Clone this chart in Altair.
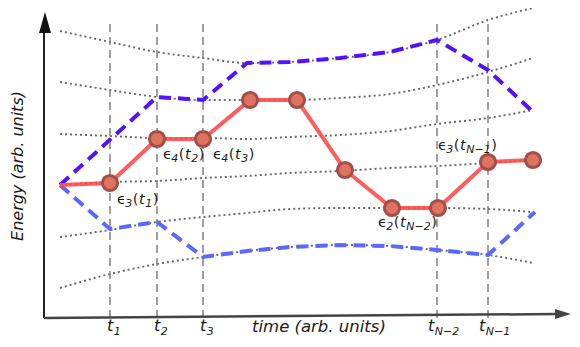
import altair as alt
import pandas as pd

# ---- data (time and energy in arbitrary units) ----
grid_t = [1.6, 6.6, 11.3, 15.9, 20.3, 24.6, 29.6, 34.6, 39.3, 44.4, 48.9]
level_1 = [28.7, 27.6, 26.6, 26.0, 25.5, 25.6, 26.0, 26.6, 27.8, 29.8, 31.0]
level_2 = [23.6, 22.8, 22.1, 21.8, 21.8, 21.8, 22.0, 22.4, 23.3, 24.6, 26.0]
level_3 = [18.4, 18.2, 18.0, 18.0, 17.9, 18.1, 18.3, 18.7, 19.4, 20.0, 20.8]
level_4 = [13.3, 13.6, 13.7, 14.0, 14.2, 14.5, 14.7, 15.0, 15.2, 15.5, 15.8]
level_5 = [8.1, 8.8, 9.6, 10.1, 10.5, 10.9, 11.0, 11.0, 11.0, 10.9, 10.6]
level_6 = [3.0, 4.4, 5.4, 6.1, 6.7, 7.1, 7.3, 7.2, 6.8, 6.3, 5.5]
levels = [level_1, level_2, level_3, level_4, level_5, level_6]

upper_t = [1.6, 11.3, 15.9, 20.3, 24.6, 29.6, 34.6, 39.3, 44.4, 48.7]
upper_e = [13.3, 22.1, 21.8, 25.5, 25.6, 26.0, 26.6, 27.8, 24.8, 20.8]

lower_t = [1.6, 6.6, 11.3, 15.9, 20.3, 24.6, 29.6, 34.6, 39.3, 44.4, 49.1]
lower_e = [13.3, 8.9, 9.6, 6.1, 6.7, 7.1, 7.3, 7.2, 6.8, 6.3, 10.6]

path_t = [1.6, 6.6, 11.3, 15.9, 20.6, 25.3, 30.1, 34.8, 39.4, 44.4, 48.9]
path_e = [13.3, 13.5, 17.9, 17.9, 21.8, 21.8, 14.8, 11.0, 11.0, 15.6, 15.8]

tick_t = [6.6, 11.3, 15.9, 39.3, 44.4]
tick_sub = ["1", "2", "3", "N\u22122", "N\u22121"]
tick_top = 29.6

eps_t = [7.3, 11.9, 16.9, 33.4, 39.4]
eps_e = [11.4, 15.9, 15.9, 9.1, 16.8]
eps_level = ["3", "4", "4", "2", "3"]
eps_time = ["1", "2", "3", "N\u22122", "N\u22121"]

x_title = "time (arb. units)"
y_title = "Energy (arb. units)"

# ---- scales ----
FONT = "DejaVu Sans"
xs = alt.Scale(domain=[-3.6, 52.8], nice=False, zero=False)
ys = alt.Scale(domain=[-2.1, 31.0], nice=False, zero=False)


def X(f="t"):
    return alt.X(f"{f}:Q", scale=xs, axis=None)


def Y(f="e"):
    return alt.Y(f"{f}:Q", scale=ys, axis=None)


layers = []

# dotted energy levels
lv = pd.DataFrame([
    {"t": t, "e": e, "lvl": i}
    for i, lev in enumerate(levels) for t, e in zip(grid_t, lev)
])
layers.append(alt.Chart(lv).mark_line(
    color="#666666", strokeWidth=1.9, strokeDash=[2, 3], interpolate="monotone"
).encode(x=X(), y=Y(), detail="lvl:N"))

# vertical dashed time lines
vt = pd.DataFrame({"t": tick_t, "e0": [0] * len(tick_t), "e1": [tick_top] * len(tick_t)})
layers.append(alt.Chart(vt).mark_rule(
    color="#888888", strokeWidth=1.6, strokeDash=[8, 5]
).encode(x=X(), y=Y("e0"), y2="e1:Q"))

# blue envelopes
up = pd.DataFrame({"t": upper_t, "e": upper_e})
layers.append(alt.Chart(up).mark_line(
    color="#5212ff", strokeWidth=4, strokeDash=[12, 7]
).encode(x=X(), y=Y()))
lo = pd.DataFrame({"t": lower_t, "e": lower_e})
layers.append(alt.Chart(lo).mark_line(
    color="#5a68ff", strokeWidth=4, strokeDash=[12, 7]
).encode(x=X(), y=Y()))

# red path
pth = pd.DataFrame({"t": path_t, "e": path_e})
layers.append(alt.Chart(pth).mark_line(
    color="#ff4a4a", strokeWidth=4, opacity=0.9
).encode(x=X(), y=Y()))
layers.append(alt.Chart(pth.iloc[1:]).mark_point(
    filled=True, fill="#e0735e", stroke="#a24f4c", strokeWidth=3, size=230, opacity=1
).encode(x=X(), y=Y()))

# axes
ax_y = pd.DataFrame({"t": [0, 0], "e": [0, 28.8]})
layers.append(alt.Chart(ax_y).mark_line(color="#222222", strokeWidth=2).encode(x=X(), y=Y()))
ax_x = pd.DataFrame({"t": [0, 51.3], "e": [0, 0.4]})
layers.append(alt.Chart(ax_x).mark_line(color="#444444", strokeWidth=2.5).encode(x=X(), y=Y()))
arr_y = pd.DataFrame({"t": [0.1], "e": [29.55]})
layers.append(alt.Chart(arr_y).mark_point(
    shape="M-0.57,1L0,-1L0.57,1Z", filled=True, color="#111111", size=441, opacity=1
).encode(x=X(), y=Y()))
arr_x = pd.DataFrame({"t": [51.9], "e": [0.4]})
layers.append(alt.Chart(arr_x).mark_point(
    shape="M-1,-0.62L1,0L-1,0.62Z", filled=True, color="#444444", size=256, opacity=1
).encode(x=X(), y=Y()))

# text helpers
W = {"\u03f5": 0.52, "(": 0.39, ")": 0.39, "t": 0.392, "N": 0.748, "\u2212": 0.838}


def width(s, size):
    return sum(W.get(c, 0.636) for c in s) * size


def rich(t, e, pieces, dx0=0):
    out = []
    dx = dx0
    df = pd.DataFrame({"t": [t], "e": [e]})
    for txt, size, italic, dy in pieces:
        out.append(alt.Chart(df).mark_text(
            text=txt, font=FONT, fontSize=size,
            fontStyle="italic" if italic else "normal",
            align="left", baseline="alphabetic", dx=dx, dy=dy, color="#1a1a1a"
        ).encode(x=X(), y=Y()))
        dx += width(txt, size) + 0.6
    return out


# epsilon labels
for t, e, lvl, tm in zip(eps_t, eps_e, eps_level, eps_time):
    pieces = [("\u03f5", 14.5, False, 0), (lvl, 11, True, 3), ("(", 14.5, False, 0),
              ("t", 14.5, True, 0), (tm, 11, True, 3), (")", 14.5, False, 0)]
    layers += rich(t, e, pieces)

# tick labels
for t, sub in zip(tick_t, tick_sub):
    dx0 = -3 if len(sub) == 1 else -9
    layers += rich(t, -1.3, [("t", 16, True, 0), (sub, 11, True, 3.5)], dx0=dx0)

# axis titles
layers.append(alt.Chart(pd.DataFrame({"t": [20.8], "e": [-1.4]})).mark_text(
    text=x_title, font=FONT, fontSize=16.5, fontStyle="italic",
    align="left", baseline="alphabetic", color="#1a1a1a"
).encode(x=X(), y=Y()))
layers.append(alt.Chart(pd.DataFrame({"t": [-2.6], "e": [15.2]})).mark_text(
    text=y_title, font=FONT, fontSize=16, fontStyle="italic", angle=270,
    align="center", baseline="middle", color="#1a1a1a"
).encode(x=X(), y=Y()))

chart = alt.layer(*layers).properties(
    width=564, height=331, autosize="none", padding=0
).configure_view(stroke=None)

chart.save("out.html", embed_options={"renderer": "svg", "actions": False})
